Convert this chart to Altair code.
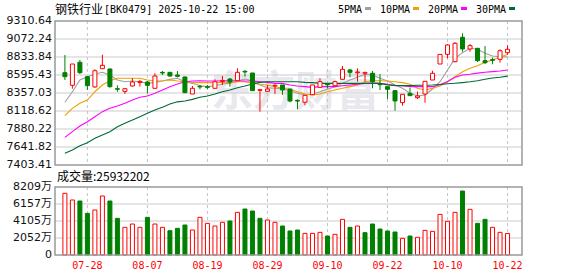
import altair as alt
import pandas as pd

# ---------------- data ----------------
dates = ["07-23", "07-24", "07-25", "07-28", "07-29", "07-30", "07-31", "08-01", "08-04", "08-05",
         "08-06", "08-07", "08-08", "08-11", "08-12", "08-13", "08-14", "08-15", "08-18", "08-19",
         "08-20", "08-21", "08-22", "08-25", "08-26", "08-27", "08-28", "08-29", "09-01", "09-02",
         "09-03", "09-04", "09-05", "09-08", "09-09", "09-10", "09-11", "09-12", "09-15", "09-16",
         "09-17", "09-18", "09-19", "09-22", "09-23", "09-24", "09-25", "09-26", "09-29", "09-30",
         "10-09", "10-10", "10-13", "10-14", "10-15", "10-16", "10-17", "10-20", "10-21", "10-22"]

opens = [8626, 8459, 8764, 8573, 8437, 8679, 8675, 8414, 8379, 8450,
         8495, 8503, 8419, 8630, 8631, 8595, 8569, 8344, 8446, 8440,
         8419, 8510, 8542, 8520, 8644, 8622, 8392, 8379, 8450, 8463,
         8410, 8260, 8234, 8335, 8432, 8476, 8454, 8538, 8662, 8626,
         8618, 8618, 8476, 8441, 8388, 8229, 8353, 8295, 8344, 8529,
         8741, 8869, 8772, 9095, 8940, 8949, 8785, 8799, 8803, 8891]
highs = [8860, 8741, 8794, 8580, 8671, 8864, 8680, 8459, 8420, 8552,
         8529, 8516, 8618, 8648, 8635, 8648, 8575, 8450, 8463, 8463,
         8538, 8582, 8556, 8684, 8662, 8622, 8410, 8463, 8472, 8463,
         8410, 8273, 8326, 8463, 8552, 8485, 8520, 8715, 8675, 8684,
         8631, 8648, 8609, 8441, 8388, 8340, 8427, 8375, 8512, 8652,
         8869, 9006, 9029, 9148, 9006, 8949, 8979, 8825, 8936, 8989]
lows = [8529, 8414, 8609, 8397, 8427, 8679, 8427, 8374, 8344, 8441,
        8441, 8353, 8419, 8595, 8573, 8565, 8355, 8344, 8406, 8410,
        8419, 8463, 8441, 8520, 8573, 8388, 8110, 8379, 8344, 8331,
        8234, 8141, 8194, 8335, 8432, 8419, 8440, 8538, 8565, 8507,
        8507, 8419, 8397, 8278, 8123, 8189, 8322, 8278, 8229, 8529,
        8741, 8817, 8763, 8904, 8904, 8768, 8741, 8737, 8759, 8864]
closes = [8573, 8741, 8626, 8454, 8652, 8724, 8441, 8407, 8414, 8503,
          8510, 8459, 8582, 8622, 8582, 8578, 8361, 8419, 8437, 8432,
          8507, 8520, 8503, 8631, 8635, 8388, 8401, 8410, 8459, 8397,
          8251, 8250, 8326, 8463, 8507, 8467, 8507, 8671, 8631, 8635,
          8631, 8507, 8467, 8406, 8251, 8340, 8322, 8317, 8512, 8618,
          8869, 8993, 9015, 8940, 8984, 8785, 8759, 8790, 8917, 8936]

# volume in 万
volumes = [7449, 6640, 6518, 5030, 5432, 7121, 6518, 4426, 3339, 3742,
           3339, 4547, 3742, 3339, 2937, 3219, 3621, 3018, 4547, 3822,
           3500, 3943, 4104, 5150, 5552, 5311, 4426, 4225, 3943, 3500,
           2897, 3018, 2615, 2615, 2736, 2293, 2495, 4305, 3339, 3500,
           2696, 3742, 3138, 2897, 2776, 2012, 2293, 2133, 2977, 2857,
           4908, 4064, 5150, 7725, 5512, 3822, 4305, 3339, 2736, 2593]
vol_up = [1, 1, 0, 0, 1, 1, 0, 0, 1, 1,
          1, 0, 1, 1, 0, 0, 0, 1, 1, 1,
          1, 1, 0, 1, 0, 0, 0, 1, 1, 0,
          0, 0, 1, 1, 1, 0, 1, 1, 0, 1,
          0, 0, 0, 0, 0, 1, 0, 1, 1, 1,
          1, 1, 1, 0, 1, 0, 0, 1, 1, 1]

ma5 = [8234, 8374, 8529, 8573, 8609, 8631, 8595, 8529, 8507, 8516,
       8507, 8485, 8498, 8516, 8538, 8552, 8507, 8485, 8454, 8441,
       8454, 8476, 8485, 8516, 8542, 8516, 8463, 8427, 8419, 8410,
       8388, 8353, 8331, 8344, 8374, 8406, 8441, 8485, 8529, 8565,
       8605, 8595, 8552, 8516, 8463, 8419, 8353, 8317, 8331, 8410,
       8507, 8662, 8816, 8891, 8949, 8936, 8883, 8847, 8838, 8838]
ma10 = [8057, 8154, 8221, 8264, 8374, 8463, 8520, 8552, 8552, 8552,
        8552, 8529, 8516, 8520, 8529, 8516, 8507, 8498, 8494, 8494,
        8494, 8498, 8498, 8507, 8507, 8485, 8472, 8463, 8441, 8419,
        8406, 8374, 8344, 8331, 8344, 8374, 8397, 8419, 8441, 8463,
        8507, 8520, 8520, 8516, 8507, 8494, 8472, 8419, 8397, 8419,
        8450, 8507, 8573, 8639, 8684, 8719, 8763, 8794, 8830, 8869]
ma20 = [7770, 7845, 7920, 7977, 8043, 8110, 8154, 8185, 8221, 8264,
        8300, 8317, 8353, 8397, 8441, 8476, 8507, 8516, 8520, 8516,
        8516, 8520, 8520, 8520, 8516, 8516, 8507, 8498, 8485, 8485,
        8463, 8450, 8441, 8432, 8441, 8441, 8441, 8454, 8463, 8472,
        8485, 8485, 8485, 8472, 8454, 8454, 8441, 8441, 8441, 8441,
        8465, 8510, 8565, 8595, 8605, 8620, 8631, 8640, 8648, 8662]
ma30 = [7558, 7602, 7659, 7699, 7757, 7801, 7845, 7911, 7955, 7999,
        8043, 8088, 8132, 8168, 8211, 8240, 8251, 8273, 8300, 8317,
        8344, 8374, 8397, 8427, 8450, 8476, 8498, 8507, 8507, 8507,
        8507, 8507, 8498, 8494, 8485, 8485, 8485, 8485, 8485, 8485,
        8485, 8490, 8485, 8465, 8458, 8455, 8455, 8460, 8460, 8462,
        8470, 8480, 8487, 8495, 8505, 8520, 8540, 8555, 8565, 8580]

price_ticks = [9310.64, 9072.24, 8833.84, 8595.43, 8357.03, 8118.62, 7880.22, 7641.82, 7403.41]
vol_ticks = [8209, 6157, 4105, 2052, 0]
vol_tick_labels = ["8209万", "6157万", "4105万", "2052万", "0"]
date_ticks = ["07-28", "08-07", "08-19", "08-29", "09-10", "09-22", "10-10", "10-22"]

title_cn = "钢铁行业"
title_rest = "[BK0479] 2025-10-22 15:00"
vol_title = "成交量:25932202"
legend_names = ["5PMA", "10PMA", "20PMA", "30PMA"]
watermark = "东方财富"

# ---------------- layout / styles ----------------
W, H = 467, 234
PH = 144
VT, VB = 166, 234
RED = "#ff0000"
GREEN = "#008000"
MA_COLORS = ["#a0a0a0", "#f0a000", "#ff00ff", "#006a35"]

df = pd.DataFrame({
    "i": list(range(len(dates))), "date": dates,
    "open": opens, "high": highs, "low": lows, "close": closes,
    "vol": volumes, "ma5": ma5, "ma10": ma10, "ma20": ma20, "ma30": ma30,
})
df["body_lo"] = df[["open", "close"]].min(axis=1)
df["body_hi"] = df[["open", "close"]].max(axis=1)
df["dir"] = ["up" if c >= o else "down" for o, c in zip(opens, closes)]
df["vdir"] = ["up" if u else "down" for u in vol_up]
df["zero"] = 0

ticks_df = pd.DataFrame({"i": [dates.index(d) for d in date_ticks], "label": date_ticks})
pt_df = pd.DataFrame({"v": price_ticks, "label": [f"{v:.2f}" for v in price_ticks]})
vt_df = pd.DataFrame({"v": vol_ticks, "label": vol_tick_labels})
one = pd.DataFrame({"a": [0]})

xs = alt.Scale(domain=[-0.652, 60.26], nice=False, zero=False)
ps = alt.Scale(domain=[price_ticks[-1], price_ticks[0]], range=[PH, 0], nice=False, zero=False)
vs = alt.Scale(domain=[0, vol_ticks[0]], range=[VB, VT], nice=False, zero=False)
X = alt.X("i:Q", scale=xs, axis=None)

layers = []

# watermark
layers.append(alt.Chart(one).mark_text(text=watermark, font="Noto Sans CJK SC", fontSize=42,
                                       fontWeight="bold", color="#e8e8ee")
              .encode(x=alt.value(240), y=alt.value(72)))

# horizontal grid
layers.append(alt.Chart(pt_df.iloc[1:-1]).mark_rule(color="#cccccc", strokeWidth=1.2)
              .encode(y=alt.Y("v:Q", scale=ps, axis=None), x=alt.value(0), x2=alt.value(W)))
layers.append(alt.Chart(vt_df.iloc[1:-1]).mark_rule(color="#cccccc", strokeWidth=1.2)
              .encode(y=alt.Y("v:Q", scale=vs, axis=None), x=alt.value(0), x2=alt.value(W)))
# vertical dashed grid
layers.append(alt.Chart(ticks_df).mark_rule(color="#c4c4c4", strokeDash=[3, 3], strokeWidth=1)
              .encode(x=X, y=alt.value(0), y2=alt.value(PH)))
layers.append(alt.Chart(ticks_df).mark_rule(color="#c4c4c4", strokeDash=[3, 3], strokeWidth=1)
              .encode(x=X, y=alt.value(VT), y2=alt.value(VB)))

# moving averages
for col, c in zip(["ma5", "ma10", "ma20", "ma30"], MA_COLORS):
    layers.append(alt.Chart(df).mark_line(color=c, strokeWidth=1.1)
                  .encode(x=X, y=alt.Y(f"{col}:Q", scale=ps, axis=None)))

# candles: wicks + bodies
cond_stroke = alt.condition("datum.dir == 'up'", alt.value(RED), alt.value(GREEN))
cond_fill = alt.condition("datum.dir == 'up'", alt.value("#ffffff"), alt.value(GREEN))
layers.append(alt.Chart(df).mark_rule(strokeWidth=1)
              .encode(x=X, y=alt.Y("low:Q", scale=ps, axis=None), y2="high:Q", color=cond_stroke))
layers.append(alt.Chart(df).mark_bar(size=4, strokeWidth=1)
              .encode(x=X, y=alt.Y("body_lo:Q", scale=ps, axis=None), y2="body_hi:Q",
                      fill=cond_fill, stroke=cond_stroke))

# volume bars
vstroke = alt.condition("datum.vdir == 'up'", alt.value(RED), alt.value(GREEN))
vfill = alt.condition("datum.vdir == 'up'", alt.value("#ffffff"), alt.value(GREEN))
layers.append(alt.Chart(df).mark_bar(size=4, strokeWidth=1)
              .encode(x=X, y=alt.Y("vol:Q", scale=vs, axis=None), y2="zero:Q",
                      fill=vfill, stroke=vstroke))

# panel borders
for y0, y1 in [(0, PH), (VT, VB)]:
    layers.append(alt.Chart(one).mark_rect(fillOpacity=0, stroke="#999999", strokeWidth=1.5)
                  .encode(x=alt.value(0), x2=alt.value(W), y=alt.value(y0), y2=alt.value(y1)))

# axis labels
layers.append(alt.Chart(pt_df).mark_text(align="right", baseline="middle", font="DejaVu Sans",
                                         fontSize=11, color="#111111")
              .encode(y=alt.Y("v:Q", scale=ps, axis=None), x=alt.value(-3), text="label:N"))
layers.append(alt.Chart(vt_df).mark_text(align="right", baseline="middle",
                                         font="DejaVu Sans, Noto Sans CJK SC",
                                         fontSize=11, color="#111111")
              .encode(y=alt.Y("v:Q", scale=vs, axis=None), x=alt.value(-3), text="label:N"))
layers.append(alt.Chart(ticks_df).mark_text(align="center", baseline="middle",
                                            font="DejaVu Sans Mono", fontSize=10, color=RED)
              .encode(x=X, y=alt.value(245), text="label:N"))

# titles
layers.append(alt.Chart(one).mark_text(text=title_cn, align="left", baseline="middle",
                                       font="Noto Sans CJK SC", fontSize=12, color="#000000")
              .encode(x=alt.value(0), y=alt.value(-11.5)))
layers.append(alt.Chart(one).mark_text(text=title_rest, align="left", baseline="middle",
                                       font="DejaVu Sans Mono", fontSize=10, color="#000000")
              .encode(x=alt.value(49), y=alt.value(-11.5)))
layers.append(alt.Chart(one).mark_text(text=vol_title, align="left", baseline="middle",
                                       font="Noto Sans CJK SC", fontSize=12, color="#000000")
              .encode(x=alt.value(2), y=alt.value(156)))

# legend
leg_x = 283
for name, c in zip(legend_names, MA_COLORS):
    layers.append(alt.Chart(one).mark_text(text=name, align="left", baseline="middle",
                                           font="DejaVu Sans Mono", fontSize=10, color="#000000")
                  .encode(x=alt.value(leg_x), y=alt.value(-11.5)))
    sw = leg_x + 6 * len(name) + 3
    layers.append(alt.Chart(one).mark_rect(color=c)
                  .encode(x=alt.value(sw), x2=alt.value(sw + 6), y=alt.value(-14), y2=alt.value(-11)))
    leg_x = sw + 15

chart = (alt.layer(*layers)
         .resolve_scale(y="independent")
         .properties(width=W, height=H,
                     padding={"left": 55, "top": 21, "right": 56, "bottom": 21},
                     autosize=alt.AutoSizeParams(type="none"),
                     background="#ffffff")
         .configure_view(stroke=None))

chart.save("out.html", embed_options={"renderer": "svg", "actions": False})
